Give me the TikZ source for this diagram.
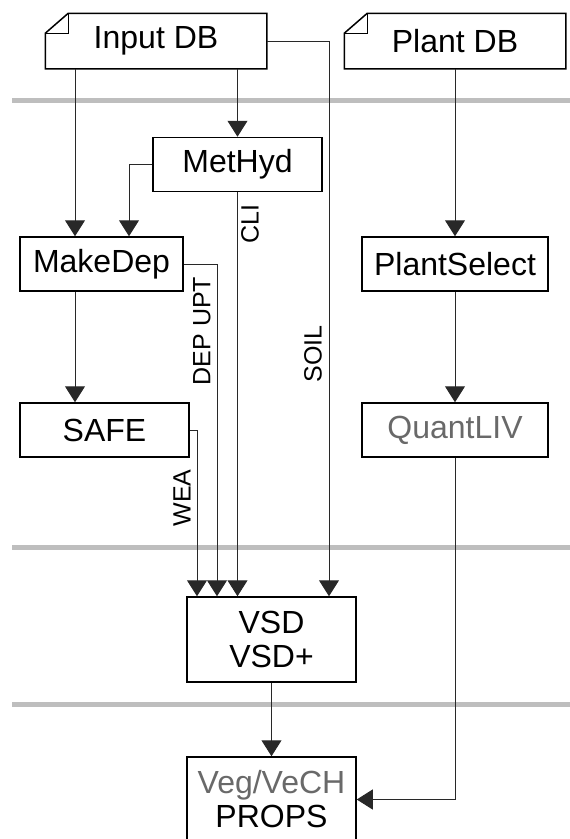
\documentclass[tikz,border=0pt]{standalone}
\usepackage{fontspec}
\setmainfont{Liberation Sans}
\definecolor{bandgray}{RGB}{190, 190, 190}
\definecolor{textgray}{RGB}{105, 105, 105}
\definecolor{linegray}{RGB}{40, 40, 40}
\usetikzlibrary{arrows.meta, positioning}

\begin{document}
\begin{tikzpicture}[
  x=1pt, y=-1pt,
  proc/.style={draw, line width=1.5pt, minimum width=169pt, minimum height=54pt, inner sep=0pt, font=\fontsize{32}{34}\selectfont, align=center},
  dbnote/.style={proc, draw=none, minimum width=220pt},
  band/.style={bandgray, line width=5pt},
  flow/.style={linegray, line width=1pt, -{Triangle[length=16pt, width=20pt]}},
  tag/.style={rotate=90, font=\fontsize{25}{25}\selectfont, inner sep=0pt}
]
  \useasboundingbox (0,0) rectangle (570,839);
  \clip (0,0) rectangle (570,839);

  % Layers
  \foreach \y in {100, 547.5, 704} {
    \draw[band] (12,\y) -- (570,\y);
  }

  % Databases
  \node[dbnote] (indb) at (156,41) {Input DB};
  \node[dbnote] (plantdb) at (455,41) {Plant DB};
  \foreach \n in {indb, plantdb} {
    \draw[line width=1.5pt] ([xshift=23pt]\n.north west) -- (\n.north east) -- (\n.south east) -- (\n.south west) -- ([yshift=-20pt]\n.north west) -- cycle;
    \draw[line width=1pt] ([xshift=23pt]\n.north west) -- ([xshift=23pt, yshift=-20pt]\n.north west) -- ([yshift=-20pt]\n.north west);
  }

  % Models
  \node[proc] (methyd) at (237.5,164.5) {MetHyd};
  \node[proc, minimum width=163pt] (makedep) at (101.5,264) {MakeDep};
  \node[proc] (safe) at (104.5,430) {SAFE};
  \node[proc, minimum width=186pt] (plantsel) at (455,264) {PlantSelect};
  \node[proc, minimum width=186pt, text=textgray] (quantliv) at (455,430) {QuantLIV};
  \node[proc, minimum height=85pt] (vsd) at (271.5,639.5) {VSD\\VSD+};
  \node[proc, minimum height=85pt] (veg) at (271.5,799.5) {\textcolor{textgray}{Veg/VeCH}\\PROPS};

  % Data flow
  \draw[flow] ([xshift=-81pt]indb.south) -- ([xshift=-26.5pt]makedep.north);
  \draw[flow] (methyd.north |- indb.south) -- (methyd.north);
  \draw[flow] (indb.east) -| ([xshift=57.5pt]vsd.north);
  \draw[flow] (methyd.west) -| ([xshift=27.5pt]makedep.north);
  \draw[flow] (methyd.south) -- (methyd.south |- vsd.north);
  \draw[flow] ([xshift=-26.5pt]makedep.south) -- ([xshift=-29.5pt]safe.north);
  \draw[flow] (makedep.east) -| ([xshift=-54.5pt]vsd.north);
  \draw[flow] (safe.east) -| ([xshift=-74.5pt]vsd.north);
  \draw[flow] (plantdb) -- (plantsel);
  \draw[flow] (plantsel) -- (quantliv);
  \draw[flow] (quantliv.south) |- (veg.east);
  \draw[flow] (vsd) -- (veg);

  % Labels
  \node[tag] (cli) at (250,224) {CLI};
  \node[tag] (depupt) at (202,331) {DEP UPT};
  \node[tag] (soil) at (313,354) {SOIL};
  \node[tag] (wea) at (182,498) {WEA};
\end{tikzpicture}
\end{document}
